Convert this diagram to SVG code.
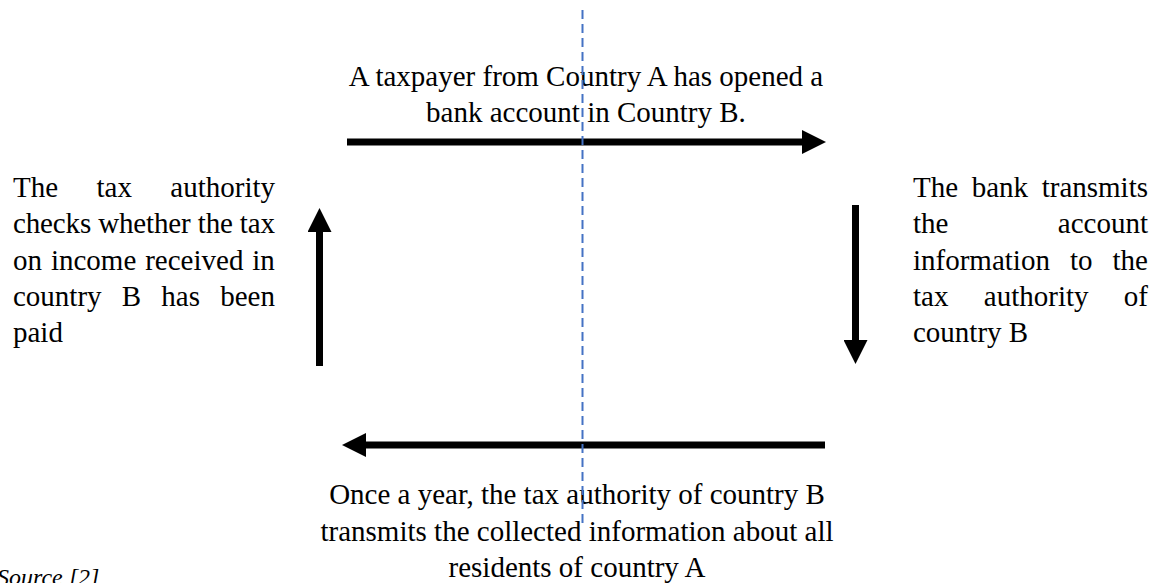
<svg xmlns="http://www.w3.org/2000/svg" width="1154" height="583" viewBox="0 0 1154 583">
  <style>
    .t { font-family: "Liberation Serif", "Times New Roman", serif; font-size: 29px; fill: #000; }
    .c { text-anchor: middle; }
    .src { font-family: "Liberation Serif", "Times New Roman", serif; font-size: 24px; font-style: italic; fill: #000; }
    .shaft { stroke: #000; stroke-width: 7; fill: none; }
    .divider { stroke: #4472C4; stroke-width: 2; stroke-dasharray: 9 5; fill: none; }
  </style>
  <defs>
    <marker id="head" markerUnits="userSpaceOnUse" markerWidth="24" markerHeight="24" refX="0" refY="12" orient="auto">
      <path d="M0,0 L24,12 L0,24 Z" fill="#000"/>
    </marker>
  </defs>
  <rect width="1154" height="583" fill="#fff"/>

  <g id="connectors">
    <line class="shaft" x1="347" y1="142" x2="802" y2="142" marker-end="url(#head)"/>
    <line class="shaft" x1="855.5" y1="205" x2="855.5" y2="340" marker-end="url(#head)"/>
    <line class="shaft" x1="825" y1="445" x2="366" y2="445" marker-end="url(#head)"/>
    <line class="shaft" x1="319.5" y1="366" x2="319.5" y2="232" marker-end="url(#head)"/>
  </g>

  <g id="node-top">
    <text class="t c" x="586" y="86">A taxpayer from Country A has opened a</text>
    <text class="t c" x="586" y="122">bank account in Country B.</text>
  </g>

  <g id="node-right">
    <text class="t" y="197"><tspan x="913">The</tspan><tspan x="971.7">bank</tspan><tspan x="1041.7">transmits</tspan></text>
    <text class="t" y="233.3"><tspan x="913">the</tspan><tspan x="1057.8">account</tspan></text>
    <text class="t" y="269.6"><tspan x="913">information</tspan><tspan x="1069.9">to</tspan><tspan x="1112.5">the</tspan></text>
    <text class="t" y="305.9"><tspan x="913">tax</tspan><tspan x="983.8">authority</tspan><tspan x="1123.8">of</tspan></text>
    <text class="t" x="913" y="342.2">country B</text>
  </g>

  <g id="node-bottom">
    <text class="t c" x="577" y="504">Once a year, the tax authority of country B</text>
    <text class="t c" x="577" y="541">transmits the collected information about all</text>
    <text class="t c" x="577" y="577">residents of country A</text>
  </g>

  <g id="node-left">
    <text class="t" y="197"><tspan x="13">The</tspan><tspan x="96.5">tax</tspan><tspan x="170.3">authority</tspan></text>
    <text class="t" x="13" y="233.3" textLength="262" lengthAdjust="spacing">checks whether the tax</text>
    <text class="t" y="269.6"><tspan x="13">on</tspan><tspan x="50.9">income</tspan><tspan x="145.2">received</tspan><tspan x="252.3">in</tspan></text>
    <text class="t" y="305.9"><tspan x="13">country</tspan><tspan x="121.8">B</tspan><tspan x="161.3">has</tspan><tspan x="220.2">been</tspan></text>
    <text class="t" x="13" y="342.2">paid</text>
  </g>

  <g id="divider">
    <line class="divider" x1="582.5" y1="10" x2="582.5" y2="523"/>
  </g>

  <g id="source">
    <text class="src" x="-3" y="585">Source [2]</text>
  </g>
</svg>
